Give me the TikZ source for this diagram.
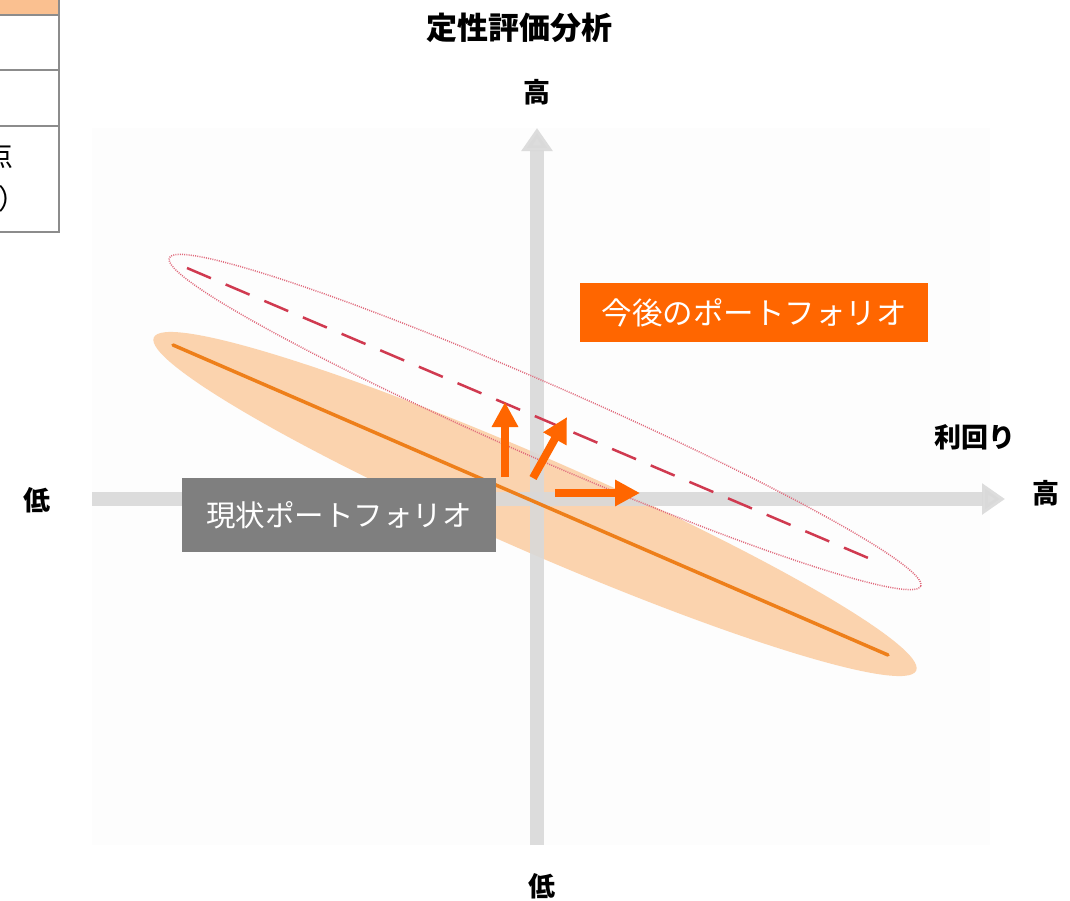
\documentclass[tikz,border=0pt]{standalone}
\usepackage{fontspec}
\newfontfamily\jp{Noto Sans CJK JP}
\usetikzlibrary{arrows.meta}
\definecolor{axisgray}{HTML}{D9D9D9}
\definecolor{orangeA}{HTML}{FF6600}
\definecolor{orangeline}{HTML}{EE7F1A}
\definecolor{peach}{HTML}{FBD3AE}
\definecolor{dashred}{HTML}{D03A50}
\definecolor{dotred}{HTML}{E06A7C}
\definecolor{boxgray}{HTML}{7F7F7F}
\definecolor{tableorange}{HTML}{FAC090}
\definecolor{tableline}{HTML}{8C8C8C}
\definecolor{panel}{HTML}{FDFDFD}
\tikzset{
  lab/.style={font=\jp\bfseries\fontsize{27}{30}\selectfont, inner sep=0pt, text=black},
  axisline/.style={draw=axisgray, line width=14pt, -{Triangle[width=30pt,length=23pt]}},
  oarrow/.style={draw=orangeA, line width=8pt, -{Triangle[width=25pt,length=25pt]}},
  tagbox/.style={font=\jp\fontsize{29.5}{32}\selectfont, text=white, inner sep=0pt},
  tcell/.style={font=\jp\fontsize{28}{30}\selectfont, inner sep=0pt, text=black},
}
\begin{document}
\begin{tikzpicture}[x=1pt,y=-1pt]
\useasboundingbox (0,0) rectangle (1070,900);
\clip (0,0) rectangle (1070,900);
% faint panel
\fill[panel] (92,128) rectangle (990,845);
% table fragment
\fill[tableorange] (-10,-5) rectangle (59,15);
\draw[tableline, line width=2pt] (59,-5) -- (59,232);
\draw[tableline, line width=2pt] (-10,15) -- (59,15);
\draw[tableline, line width=2pt] (-10,70) -- (59,70);
\draw[tableline, line width=2pt] (-10,126) -- (59,126);
\draw[tableline, line width=2pt] (-10,232) -- (60,232);
\node[tcell, anchor=east] (t1) at (14,156) {点};
\node[tcell, anchor=west] (t2) at (-2,199) {）};
% orange ellipse
\fill[peach, shift={(535,504)}, rotate=-23.6] (0,0) ellipse [x radius=416pt, y radius=47pt];
% axes
\coordinate (vb) at (537,845);
\coordinate (vt) at (537,128);
\coordinate (hl) at (92,499);
\coordinate (hr) at (1005,499);
\draw[axisline, opacity=0.9] (vb) -- (vt);
\draw[axisline, opacity=0.9] (hl) -- (hr);
% current line
\coordinate (c1) at (173,345);
\coordinate (c2) at (888,655);
\draw[orangeline, line width=3.5pt, line cap=round] (c1) -- (c2);
% dotted ellipse
\draw[dotred, line width=1.5pt, dash pattern=on 1pt off 1.2pt, shift={(545,422)}, rotate=-23.6] (0,0) ellipse [x radius=410pt, y radius=37pt];
% dashed line
\coordinate (d1) at (187,268);
\coordinate (d2) at (880,563);
\draw[dashred, line width=2.5pt, dash pattern=on 26pt off 16pt] (d1) -- (d2);
% orange arrows
\coordinate (a1s) at (505,477); \coordinate (a1e) at (505,402);
\coordinate (a2s) at (533,478); \coordinate (a2e) at (567,417);
\coordinate (a3s) at (555,493); \coordinate (a3e) at (640,493);
\draw[oarrow] (a1s) -- (a1e);
\draw[oarrow] (a2s) -- (a2e);
\draw[oarrow] (a3s) -- (a3e);
% boxes
\node[tagbox, fill=boxgray, minimum width=314pt, minimum height=74pt] (cur) at (339,515) {現状ポートフォリオ};
\node[tagbox, fill=orangeA, minimum width=348pt, minimum height=59pt, font=\jp\fontsize{30.5}{32}\selectfont] (fut) at (754,312.5) {今後のポートフォリオ};
% labels
\node[lab, font=\jp\bfseries\fontsize{31}{33}\selectfont] (title) at (519,28) {定性評価分析};
\node[lab] (ytop) at (537,92) {高};
\node[lab] (xleft) at (37,500) {低};
\node[lab] (xright) at (1046,493) {高};
\node[lab] (xname) at (975,437) {利回り};
\node[lab] (ybot) at (542,886) {低};
\end{tikzpicture}
\end{document}
